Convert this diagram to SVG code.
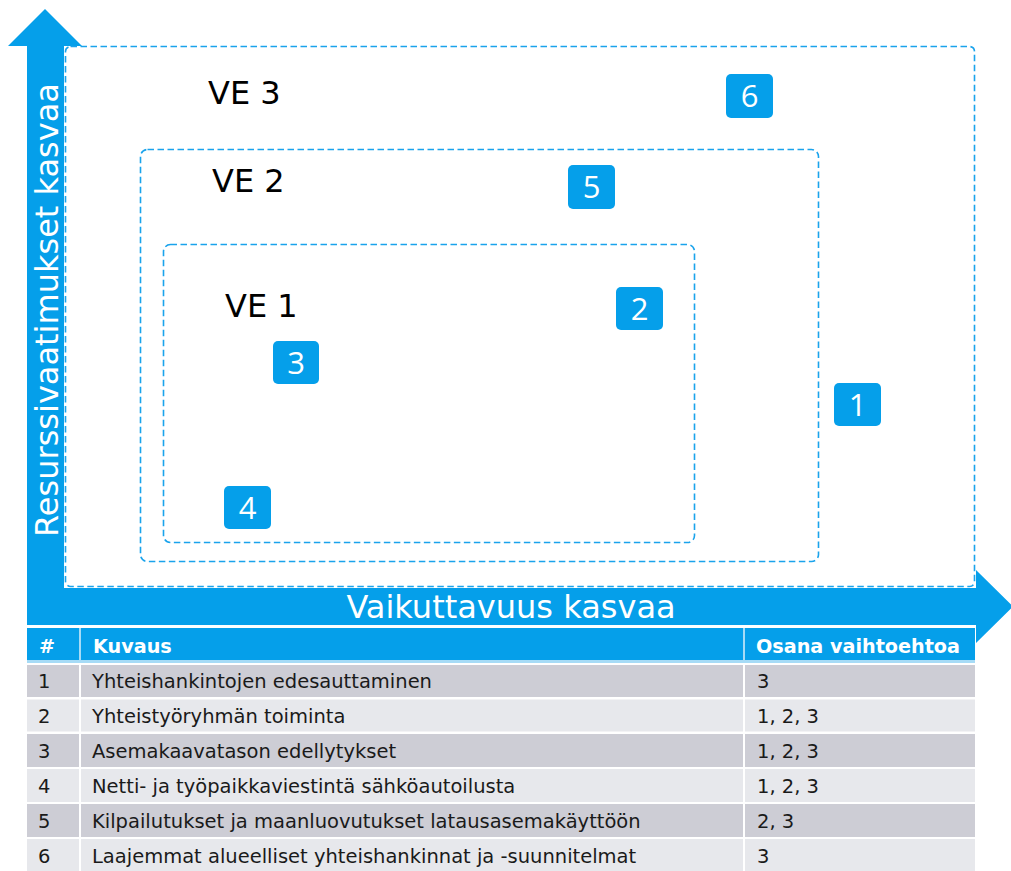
<svg xmlns="http://www.w3.org/2000/svg" width="1011" height="871" viewBox="0 0 1011 871">
<style>
.box{fill:none;stroke:#1AA3EC;stroke-width:1.6;stroke-dasharray:6.5 3.5}
.badge{fill:#059FEA}
.bt{font-family:"Open Sans","Noto Sans",sans-serif;font-size:31px;fill:#fff;text-anchor:middle}
.ve{font-family:"DejaVu Sans",sans-serif;font-size:32px;fill:#000}
.ax{font-family:"DejaVu Sans",sans-serif;font-size:32px;fill:#fff}
.hd{fill:#059FEA}
.dk{fill:#CDCDD5}
.lt{fill:#E7E8EC}
.th{font-family:"DejaVu Sans",sans-serif;font-weight:bold;font-size:19.2px;fill:#fff}
.td{font-family:"DejaVu Sans",sans-serif;font-size:19.5px;fill:#1a1a1a}
</style>
<rect width="1011" height="871" fill="#fff"/>
<g id="axes">
<path d="M27 46 L8 46 L45 9 L82 46 L64 46 L64 588 L976 588 L976 570 L1013 606.5 L976 643 L976 625 L27 625 Z" fill="#059FEA"/>
<text class="ax" transform="translate(58 310) rotate(-90)" text-anchor="middle">Resurssivaatimukset kasvaa</text>
<text class="ax" x="511" y="618" text-anchor="middle">Vaikuttavuus kasvaa</text>
</g>
<g id="ve3">
<rect class="box" x="65.5" y="46.5" width="909" height="540" rx="5"/>
<text class="ve" x="208" y="104">VE 3</text>
</g>
<g id="ve2">
<rect class="box" x="140.5" y="149.5" width="678" height="412" rx="7"/>
<text class="ve" x="212" y="192">VE 2</text>
</g>
<g id="ve1">
<rect class="box" x="163.5" y="244.5" width="531" height="298" rx="7"/>
<text class="ve" x="225" y="317">VE 1</text>
</g>
<g id="b6"><rect class="badge" x="726" y="74" width="47" height="44" rx="5"/><text class="bt" x="749.5" y="107">6</text></g>
<g id="b5"><rect class="badge" x="568" y="165" width="47" height="44" rx="5"/><text class="bt" x="591.5" y="198">5</text></g>
<g id="b2"><rect class="badge" x="616" y="287" width="47" height="43" rx="5"/><text class="bt" x="639.5" y="319.5">2</text></g>
<g id="b3"><rect class="badge" x="273" y="341" width="46" height="43" rx="5"/><text class="bt" x="296" y="373.5">3</text></g>
<g id="b1"><rect class="badge" x="834" y="383" width="47" height="43" rx="5"/><text class="bt" x="857.5" y="415.5">1</text></g>
<g id="b4"><rect class="badge" x="224" y="486" width="47" height="43" rx="5"/><text class="bt" x="247.5" y="518.5">4</text></g>
<g id="table">
<rect x="27" y="628" width="948" height="35" fill="#A6DBF6"/>
<rect class="hd" x="27" y="628" width="52" height="32"/>
<rect class="hd" x="81" y="628" width="662" height="32"/>
<rect class="hd" x="745" y="628" width="230" height="32"/>
<text class="th" x="39" y="653">#</text>
<text class="th" x="93" y="653">Kuvaus</text>
<text class="th" x="756" y="653">Osana vaihtoehtoa</text>
<g>
<rect class="dk" x="27" y="665" width="52" height="32"/><rect class="dk" x="81" y="665" width="662" height="32"/><rect class="dk" x="745" y="665" width="230" height="32"/>
<text class="td" x="38" y="688">1</text><text class="td" x="92" y="688">Yhteishankintojen edesauttaminen</text><text class="td" x="757" y="688">3</text>
</g>
<g>
<rect class="lt" x="27" y="699.5" width="52" height="32"/><rect class="lt" x="81" y="699.5" width="662" height="32"/><rect class="lt" x="745" y="699.5" width="230" height="32"/>
<text class="td" x="38" y="723">2</text><text class="td" x="92" y="723">Yhteistyöryhmän toiminta</text><text class="td" x="757" y="723">1, 2, 3</text>
</g>
<g>
<rect class="dk" x="27" y="734" width="52" height="33"/><rect class="dk" x="81" y="734" width="662" height="33"/><rect class="dk" x="745" y="734" width="230" height="33"/>
<text class="td" x="38" y="758">3</text><text class="td" x="92" y="758">Asemakaavatason edellytykset</text><text class="td" x="757" y="758">1, 2, 3</text>
</g>
<g>
<rect class="lt" x="27" y="769" width="52" height="33"/><rect class="lt" x="81" y="769" width="662" height="33"/><rect class="lt" x="745" y="769" width="230" height="33"/>
<text class="td" x="38" y="793">4</text><text class="td" x="92" y="793">Netti- ja työpaikkaviestintä sähköautoilusta</text><text class="td" x="757" y="793">1, 2, 3</text>
</g>
<g>
<rect class="dk" x="27" y="804" width="52" height="33"/><rect class="dk" x="81" y="804" width="662" height="33"/><rect class="dk" x="745" y="804" width="230" height="33"/>
<text class="td" x="38" y="828">5</text><text class="td" x="92" y="828">Kilpailutukset ja maanluovutukset latausasemakäyttöön</text><text class="td" x="757" y="828">2, 3</text>
</g>
<g>
<rect class="lt" x="27" y="839" width="52" height="32"/><rect class="lt" x="81" y="839" width="662" height="32"/><rect class="lt" x="745" y="839" width="230" height="32"/>
<text class="td" x="38" y="863">6</text><text class="td" x="92" y="863">Laajemmat alueelliset yhteishankinnat ja -suunnitelmat</text><text class="td" x="757" y="863">3</text>
</g>
</g>
</svg>
